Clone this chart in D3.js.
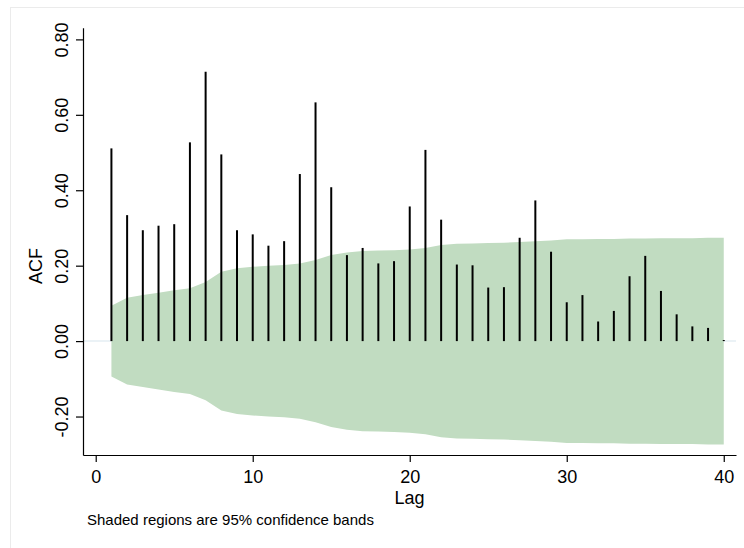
<!DOCTYPE html>
<html>
<head>
    <meta charset="utf-8">
    <title>ACF</title>
    <script src="https://d3js.org/d3.v7.min.js"></script>
    <style>
        body { margin: 0; background: #fff; font-family: "Liberation Sans", Arial, sans-serif; }
        svg { display: block; }
    </style>
</head>
<body>
<div class="chart"></div>
<script>
    // autocorrelations, lags 1..40
    const lags = d3.range(1, 41);
    const acf = [0.511, 0.334, 0.294, 0.306, 0.310, 0.527, 0.714, 0.495, 0.294, 0.283,
                 0.253, 0.265, 0.443, 0.633, 0.408, 0.228, 0.247, 0.206, 0.212, 0.357,
                 0.507, 0.322, 0.203, 0.201, 0.142, 0.143, 0.274, 0.373, 0.237, 0.103,
                 0.122, 0.052, 0.080, 0.172, 0.226, 0.133, 0.071, 0.039, 0.035, 0.003];
    // half width of the 95% confidence band
    const band = [0.094, 0.115, 0.122, 0.128, 0.135, 0.140, 0.157, 0.184, 0.193, 0.197,
                  0.200, 0.202, 0.206, 0.215, 0.228, 0.235, 0.239, 0.240, 0.241, 0.243,
                  0.247, 0.255, 0.258, 0.259, 0.260, 0.261, 0.263, 0.265, 0.267, 0.270,
                  0.270, 0.271, 0.271, 0.272, 0.272, 0.273, 0.273, 0.273, 0.274, 0.274];
    const xTicks = [0, 10, 20, 30, 40];
    const yTicks = [-0.2, 0, 0.2, 0.4, 0.6, 0.8];

    const svg = d3.select(".chart").append("svg").attr("width", 744).attr("height", 548);

    // faint outer frame of the graph region
    svg.append("rect")
        .attr("x", 10.5).attr("y", 7.5).attr("width", 740).attr("height", 550)
        .attr("fill", "none").attr("stroke", "#ebebeb");

    const x = d3.scaleLinear().domain([-0.81, 40.78]).range([83, 736]);
    const y = d3.scaleLinear().domain([-0.302, 0.831]).range([455, 27.7]);

    // zero line
    svg.append("line")
        .attr("x1", x.range()[0]).attr("x2", x.range()[1])
        .attr("y1", y(0)).attr("y2", y(0))
        .attr("stroke", "#e4eef3").attr("stroke-width", 1.5);

    const area = d3.area()
        .x((d, i) => x(lags[i]))
        .y0(d => y(-d))
        .y1(d => y(d));

    svg.append("path")
        .datum(band)
        .attr("fill", "#c1dcc1")
        .attr("d", area);

    svg.append("g")
        .selectAll("line")
        .data(acf)
        .enter().append("line")
        .attr("x1", (d, i) => x(lags[i]))
        .attr("x2", (d, i) => x(lags[i]))
        .attr("y1", y(0))
        .attr("y2", d => y(d))
        .attr("stroke", "#000")
        .attr("stroke-width", 2);

    const xAxis = svg.append("g")
        .attr("transform", "translate(0," + y.range()[0] + ")")
        .call(d3.axisBottom(x).tickValues(xTicks).tickSize(7).tickPadding(8.7).tickSizeOuter(0));

    const fmt = d3.format(".2f");
    const yAxis = svg.append("g")
        .attr("transform", "translate(" + x.range()[0] + ",0)")
        .call(d3.axisLeft(y).tickValues(yTicks)
            .tickFormat(d => fmt(d).replace("\u2212", "-"))
            .tickSize(7).tickSizeOuter(0));

    yAxis.selectAll(".tick text")
        .attr("x", null)
        .attr("dy", "0.35em")
        .attr("transform", "translate(-21,0) rotate(-90)")
        .attr("text-anchor", "middle");

    [xAxis, yAxis].forEach(function(a) {
        a.selectAll("path, line").attr("stroke", "#000").attr("stroke-width", 1.2);
        a.selectAll("text")
            .attr("fill", "#000")
            .style("font-family", "'Liberation Sans', Arial, sans-serif")
            .style("font-size", "18px");
    });

    svg.append("text")
        .attr("x", (x.range()[0] + x.range()[1]) / 2)
        .attr("y", 503.5)
        .attr("text-anchor", "middle")
        .style("font-size", "18px")
        .text("Lag");

    svg.append("text")
        .attr("transform", "translate(36,266) rotate(-90)")
        .attr("dy", "0.35em")
        .attr("text-anchor", "middle")
        .style("font-size", "18px")
        .text("ACF");

    svg.append("text")
        .attr("x", 87)
        .attr("y", 525)
        .style("font-size", "15px")
        .text("Shaded regions are 95% confidence bands");
</script>
</body>
</html>
